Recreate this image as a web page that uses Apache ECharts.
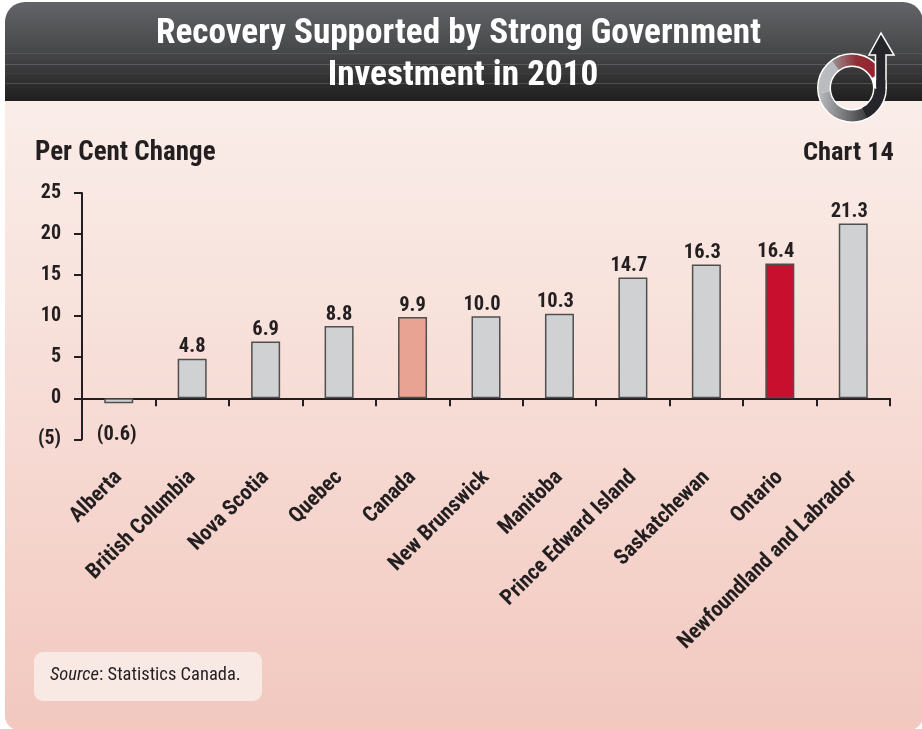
<!DOCTYPE html>
<html><head><meta charset="utf-8">
<style>html,body{margin:0;padding:0;background:#fff}#c{width:922px;height:729px}</style>
<script src="https://cdn.jsdelivr.net/npm/echarts@6/dist/echarts.min.js"></script>
</head><body><div id="c"></div>
<script>
const categories = ['Alberta','British Columbia','Nova Scotia','Quebec','Canada','New Brunswick','Manitoba','Prince Edward Island','Saskatchewan','Ontario','Newfoundland and Labrador'];
const values = [-0.6,4.8,6.9,8.8,9.9,10.0,10.3,14.7,16.3,16.4,21.3];
const valueLabels = ['(0.6)','4.8','6.9','8.8','9.9','10.0','10.3','14.7','16.3','16.4','21.3'];
const barColors = ['#cfd1d3','#cfd1d3','#cfd1d3','#cfd1d3','#e8a392','#cfd1d3','#cfd1d3','#cfd1d3','#cfd1d3','#c8102e','#cfd1d3'];
const titleLines = ['Recovery Supported by Strong Government','Investment in 2010'];
const FONT = '"Roboto Condensed","Liberation Sans",Arial,sans-serif';
const INK = '#231f20';
const chart = echarts.init(document.getElementById('c'), null, {renderer:'canvas'});
const lg = (stops)=>({type:'linear',x:0,y:0,x2:0,y2:1,colorStops:stops.map((c)=>({offset:c[0],color:c[1]}))});
const hline = (y,c)=>({type:'line',shape:{x1:5,y1:y,x2:923,y2:y},style:{stroke:c,lineWidth:1},silent:true});
const titleStyle = {color:'#ffffff',fontFamily:FONT,fontWeight:'bold',fontSize:35.2};
chart.setOption({
  animation:false,
  backgroundColor:'#ffffff',
  title:[
    {text:titleLines[0],left:453.5,top:12,textAlign:'center',textStyle:titleStyle},
    {text:titleLines[1],left:458,top:54,textAlign:'center',textStyle:titleStyle}],
  grid:{left:82,right:32,top:193,bottom:289.7,containLabel:false},
  xAxis:{type:'category',data:categories,
    axisLine:{onZero:true,lineStyle:{color:INK,width:2}},
    axisTick:{show:true,inside:false,length:8,alignWithLabel:false,lineStyle:{color:INK,width:2}},
    axisLabel:{rotate:45,interval:0,color:INK,fontFamily:FONT,fontWeight:'bold',fontSize:21.6,margin:35,
      align:'right',verticalAlign:'middle'}},
  yAxis:{type:'value',min:-5,max:25,interval:5,
    splitLine:{show:false},
    axisLine:{show:true,onZero:false,lineStyle:{color:INK,width:2}},
    axisTick:{show:true,length:8,lineStyle:{color:INK,width:2}},
    axisLabel:{color:INK,fontFamily:FONT,fontWeight:'bold',fontSize:20,margin:21,padding:[3,0,0,0],
      formatter:v=>v<0?'('+(-v)+')':String(v)}},
  series:[{type:'bar',barWidth:29,
    data:values.map((v,i)=>({value:v,itemStyle:{color:barColors[i],borderColor:'#4f4f4f',borderWidth:1.5},
      label:{show:true,position:v<0?'bottom':'top',distance:v<0?21:1,formatter:valueLabels[i],
        offset:[valueLabels[i].length===4?-4:(v<0?-2:0),0],
        color:INK,fontFamily:FONT,fontWeight:'bold',fontSize:20.5}}))}],
  graphic:{elements:[
    {type:'group',z:-10,silent:true,children:[
      {type:'rect',shape:{x:5,y:80,width:918,height:650,r:[0,0,14,14]},style:{fill:lg([[0,'#faeeea'],[0.35,'#f8e2dc'],[1,'#f2c8bf']])}},
      {type:'rect',shape:{x:5,y:2,width:918,height:99,r:[20,20,0,0]},style:{fill:lg([[0,'#636467'],[0.5,'#47484a'],[1,'#201e1f']])}},
      hline(53.5,'#56575a'),hline(64.5,'#5a5b5c'),hline(73.5,'#3e3e3f'),hline(83.5,'#4f4f50'),
    ]},
    {type:'text',left:35,top:140,silent:true,style:{text:'Per Cent Change',fill:INK,font:'bold 27px '+FONT}},
    {type:'text',right:28,top:140,silent:true,style:{text:'Chart 14',fill:INK,font:'bold 26.5px '+FONT}},
    {type:'rect',silent:true,shape:{x:34,y:652,width:228,height:49,r:9},style:{fill:'#f9e9e5'}},
    {type:'text',silent:true,x:50,y:666,style:{
      rich:{i:{font:'italic 18.5px '+FONT,fill:INK},n:{font:'18.5px '+FONT,fill:INK}},
      text:'{i|Source}{n|: Statistics Canada.}'}},
    {type:'group',silent:true,z:20,children:[
      {type:'arc',shape:{cx:852,cy:88,r:28,startAngle:0,endAngle:Math.PI*2},style:{stroke:'#ffffff',lineWidth:14,fill:null}},
      {type:'arc',shape:{cx:852,cy:88,r:28,startAngle:Math.PI*0.95,endAngle:Math.PI*1.35},style:{stroke:'#b9bbbe',lineWidth:11,fill:null}},
      {type:'arc',shape:{cx:852,cy:88,r:28,startAngle:Math.PI*0.3,endAngle:Math.PI*0.95},style:{stroke:{type:'linear',x:1,y:0,x2:0,y2:0,colorStops:[{offset:0,color:'#2b2a2b'},{offset:1,color:'#b9bbbe'}]},lineWidth:11,fill:null}},
      {type:'arc',shape:{cx:852,cy:88,r:28,startAngle:Math.PI*1.3,endAngle:Math.PI*1.85},style:{stroke:{type:'linear',x:0,y:0,x2:1,y2:0,colorStops:[{offset:0,color:'#9a9a9c'},{offset:0.5,color:'#8f2f36'},{offset:1,color:'#9b1c2b'}]},lineWidth:11,fill:null}},
      {type:'arc',shape:{cx:852,cy:88,r:28,startAngle:0,endAngle:Math.PI*0.35},style:{stroke:'#26252a',lineWidth:11,fill:null}},
      {type:'polygon',shape:{points:[[881,33],[869,55],[875.5,55],[875.5,88],[886,88],[886,55],[894,55]]},style:{fill:'#26252a',stroke:'#ffffff',lineWidth:1.5}},
      {type:'rect',shape:{x:876.3,y:80,width:9,height:10},style:{fill:'#26252a'}},
    ]},
  ]}
});
</script></body></html>
